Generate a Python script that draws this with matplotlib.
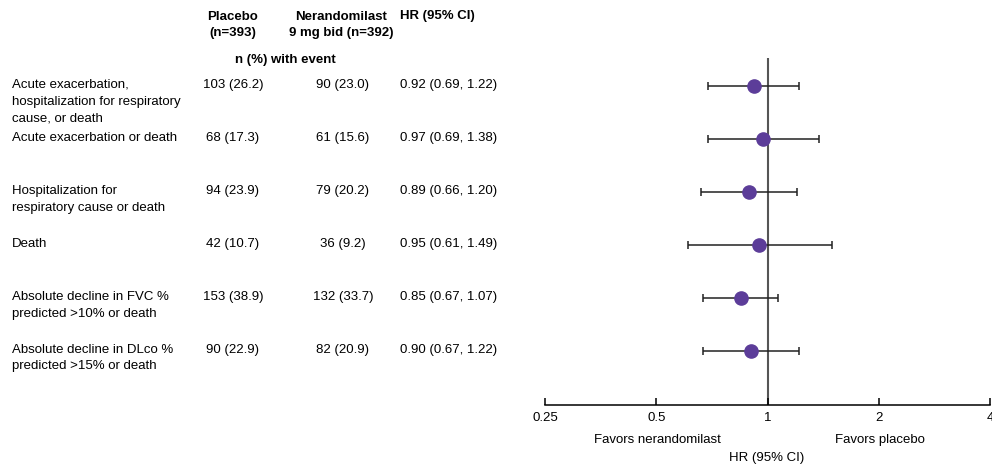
import numpy as np
import matplotlib.pyplot as plt
import matplotlib.transforms as mtransforms

plt.rcParams['font.family'] = ['Liberation Sans', 'DejaVu Sans']

outcomes = [
    "Acute exacerbation,\nhospitalization for respiratory\ncause, or death",
    "Acute exacerbation or death",
    "Hospitalization for\nrespiratory cause or death",
    "Death",
    "Absolute decline in FVC %\npredicted >10% or death",
    "Absolute decline in DLco %\npredicted >15% or death",
]
placebo_n = [103, 68, 94, 42, 153, 90]
placebo_pct = [26.2, 17.3, 23.9, 10.7, 38.9, 22.9]
neran_n = [90, 61, 79, 36, 132, 82]
neran_pct = [23.0, 15.6, 20.2, 9.2, 33.7, 20.9]
hr = [0.92, 0.97, 0.89, 0.95, 0.85, 0.90]
ci_low = [0.69, 0.69, 0.66, 0.61, 0.67, 0.67]
ci_high = [1.22, 1.38, 1.20, 1.49, 1.07, 1.22]
xticks = [0.25, 0.5, 1, 2, 4]
xtick_labels = ["0.25", "0.5", "1", "2", "4"]

W, H = 992, 468
fig = plt.figure(figsize=(W / 100, H / 100), dpi=100)

def px(x, y):
    return x / W, 1 - y / H

# forest plot panel
left, right, top, bottom = 545, 990, 58, 405
ax = fig.add_axes([left / W, 1 - bottom / H, (right - left) / W, (bottom - top) / H])

rows = np.arange(len(outcomes))
ax.set_xscale('log', base=2)
ax.set_xlim(0.25, 4)
ax.set_ylim(6.02, -0.53)

ax.axvline(1, color='#555555', lw=1.5, zorder=1)
err = [np.array(hr) - np.array(ci_low), np.array(ci_high) - np.array(hr)]
ax.errorbar(hr, rows, xerr=err, fmt='none', ecolor='#222222', elinewidth=1.1,
            capsize=3, capthick=1.1, zorder=2)
ax.plot(hr, rows, 'o', color='#5c3d99', markersize=9.5, zorder=3)

for s in ['top', 'left', 'right']:
    ax.spines[s].set_visible(False)
ax.spines['bottom'].set_linewidth(1.1)
ax.set_yticks([])
ax.set_xticks(xticks)
ax.set_xticklabels(xtick_labels)
ax.xaxis.set_minor_locator(plt.NullLocator())
ax.tick_params(axis='x', direction='in', length=5, width=1.1, labelsize=9.5, pad=5)

fs = 9.5
fig.text(*px(657, 440), "Favors nerandomilast", ha='center', va='center', fontsize=fs)
fig.text(*px(880, 440), "Favors placebo", ha='center', va='center', fontsize=fs)
fig.text(*px(767, 458), "HR (95% CI)", ha='center', va='center', fontsize=fs)

# table columns
fig.text(*px(233, 25), "Placebo\n(n=393)", ha='center', va='center', fontsize=fs,
         fontweight='bold', linespacing=1.5)
fig.text(*px(341, 25), "Nerandomilast\n9 mg bid (n=392)", ha='center', va='center',
         fontsize=fs, fontweight='bold', linespacing=1.5)
fig.text(*px(400, 16), "HR (95% CI)", ha='left', va='center', fontsize=fs,
         fontweight='bold')
fig.text(*px(285, 60), "n (%) with event", ha='center', va='center', fontsize=fs,
         fontweight='bold')

tr = mtransforms.blended_transform_factory(fig.transFigure, ax.transData)
for i in rows:
    y = i - 0.14
    fig.text(12 / W, y, outcomes[i], transform=tr, ha='left', va='top',
             fontsize=fs, linespacing=1.55)
    fig.text(233 / W, y, f"{placebo_n[i]} ({placebo_pct[i]:.1f})", transform=tr,
             ha='center', va='top', fontsize=fs)
    fig.text(343 / W, y, f"{neran_n[i]} ({neran_pct[i]:.1f})", transform=tr,
             ha='center', va='top', fontsize=fs)
    fig.text(400 / W, y, f"{hr[i]:.2f} ({ci_low[i]:.2f}, {ci_high[i]:.2f})",
             transform=tr, ha='left', va='top', fontsize=fs)

fig.savefig('out.png', dpi=100)
